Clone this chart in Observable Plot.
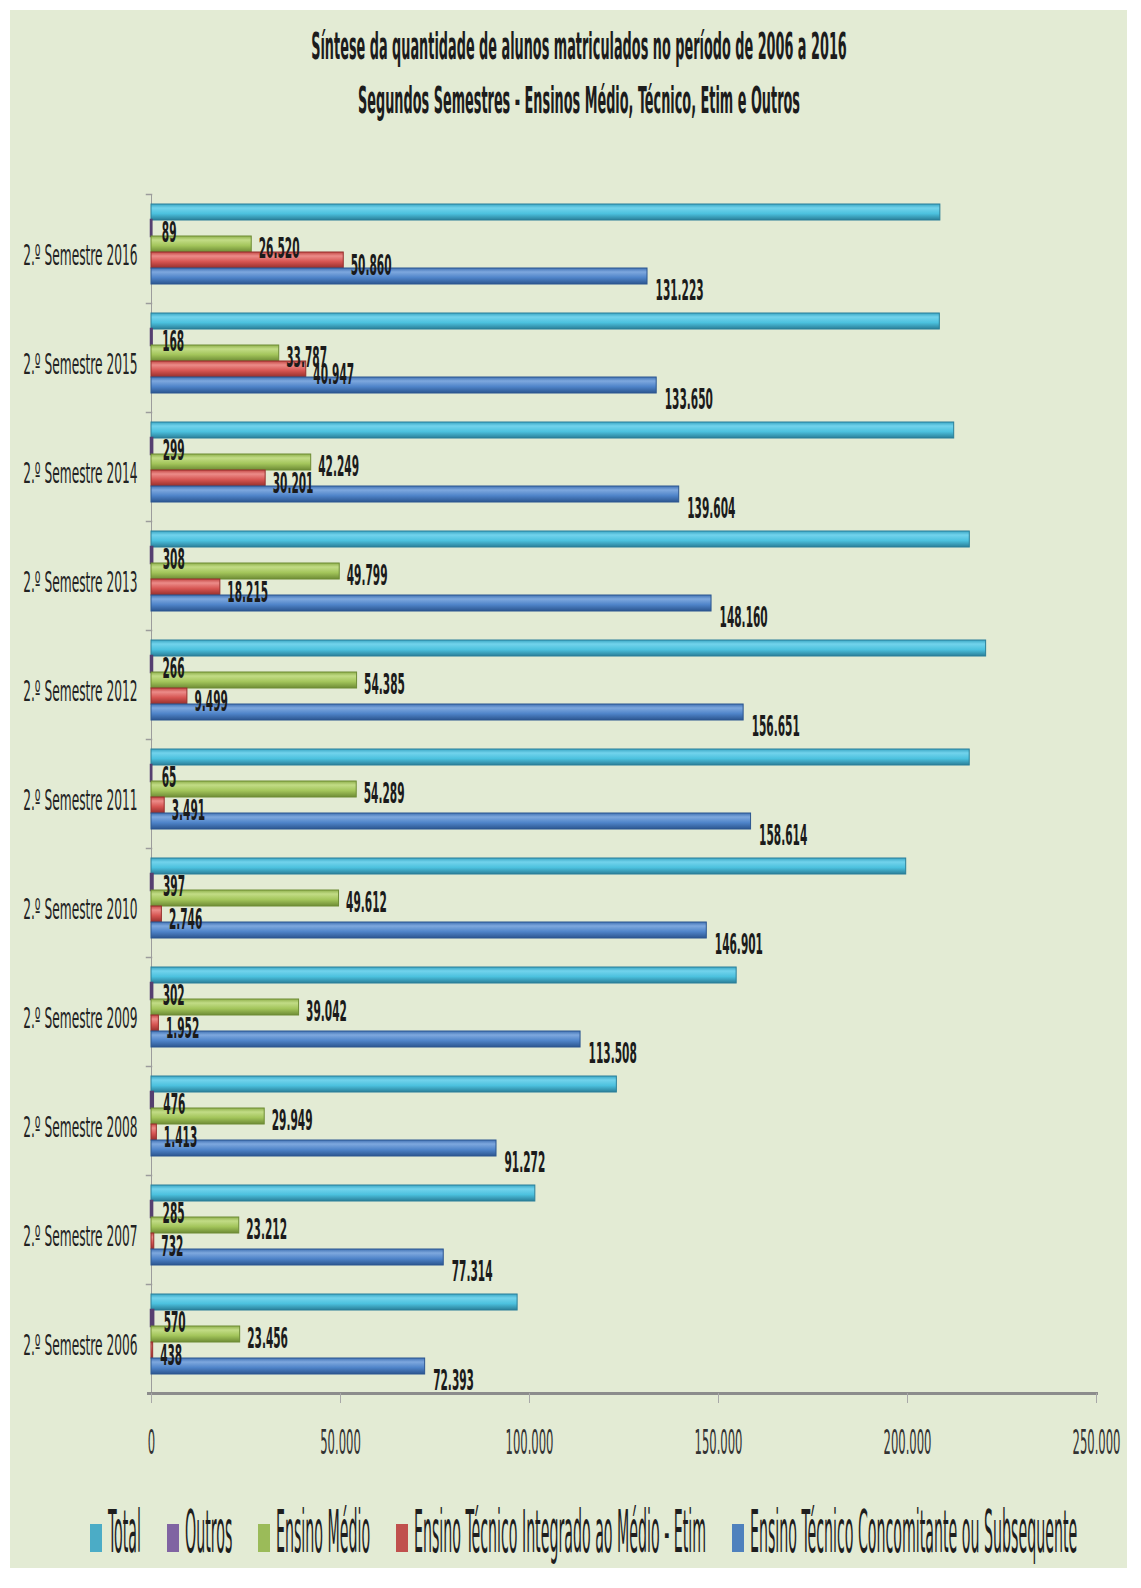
<!DOCTYPE html>
<html>
<head>
<meta charset="utf-8">
<script src="https://cdn.jsdelivr.net/npm/d3@7"></script>
<script src="https://cdn.jsdelivr.net/npm/@observablehq/plot@0.6"></script>
<style>
  html, body { margin: 0; padding: 0; background: #ffffff; }
  body { width: 1141px; height: 1588px; position: relative; overflow: hidden; }
  #panel { position: absolute; left: 10px; top: 10px; width: 1117px; height: 1558px; background: #e3ebd4; }
  .tl { position: absolute; left: 569px; white-space: nowrap; font-family: "DejaVu Sans Condensed", "DejaVu Sans", sans-serif; font-stretch: condensed;
        font-weight: bold; font-size: 38px; line-height: 38px; color: #1c1c1c; transform-origin: center center; }
  #chart { position: absolute; left: 0; top: 150px; }
  #chart svg text { font-stretch: condensed; }
  #legend { position: absolute; left: 15px; top: 1493px; width: 1117px; display: flex; justify-content: center; align-items: baseline;
            font-family: "DejaVu Sans Condensed", "DejaVu Sans", sans-serif; font-stretch: condensed; font-size: 58px; line-height: 58px; color: #1e1e1e; }
  .item { display: flex; align-items: baseline; margin: 0 13px; }
  .sw { width: 12px; height: 28px; margin-right: 6px; }
  .lab { display: inline-block; white-space: nowrap; transform-origin: left center; }
</style>
</head>
<body>
<svg width="0" height="0" style="position:absolute">
  <defs>
    <linearGradient id="gTotal" x1="0" y1="0" x2="0" y2="1">
      <stop offset="0" stop-color="#3aa6c4"/><stop offset="0.25" stop-color="#72d3ec"/><stop offset="0.6" stop-color="#4cc1de"/><stop offset="1" stop-color="#2a7f99"/>
    </linearGradient>
    <linearGradient id="gOutros" x1="0" y1="0" x2="0" y2="1">
      <stop offset="0" stop-color="#6f5590"/><stop offset="0.25" stop-color="#a48cc4"/><stop offset="0.6" stop-color="#8064a2"/><stop offset="1" stop-color="#553f70"/>
    </linearGradient>
    <linearGradient id="gMedio" x1="0" y1="0" x2="0" y2="1">
      <stop offset="0" stop-color="#8fb04c"/><stop offset="0.25" stop-color="#c2dc86"/><stop offset="0.6" stop-color="#a3c55b"/><stop offset="1" stop-color="#6e8c35"/>
    </linearGradient>
    <linearGradient id="gEtim" x1="0" y1="0" x2="0" y2="1">
      <stop offset="0" stop-color="#c44845"/><stop offset="0.25" stop-color="#ec8c89"/><stop offset="0.6" stop-color="#d65552"/><stop offset="1" stop-color="#962f2c"/>
    </linearGradient>
    <linearGradient id="gConc" x1="0" y1="0" x2="0" y2="1">
      <stop offset="0" stop-color="#4172b4"/><stop offset="0.25" stop-color="#7ea8de"/><stop offset="0.6" stop-color="#4f84c9"/><stop offset="1" stop-color="#2c5690"/>
    </linearGradient>
  </defs>
</svg>
<div id="panel">
  <span class="tl" id="t1" style="top:17px">Síntese da quantidade de alunos matriculados no período de 2006 a 2016</span>
  <span class="tl" id="t2" style="top:71px">Segundos Semestres - Ensinos Médio, Técnico, Etim e Outros</span>
  <div id="chart"></div>
  <div id="legend"></div>
</div>
<script>
// ---- data ----
const years = ["2006", "2007", "2008", "2009", "2010", "2011", "2012", "2013", "2014", "2015", "2016"];
const seriesNames = ["Total", "Outros", "Ensino Médio", "Ensino Técnico Integrado ao Médio - Etim", "Ensino Técnico Concomitante ou Subsequente"];
const total  = [96857, 101543, 123110, 154804, 199656, 216459, 220801, 216482, 212353, 208552, 208692];
const outros = [570, 285, 476, 302, 397, 65, 266, 308, 299, 168, 89];
const medio  = [23456, 23212, 29949, 39042, 49612, 54289, 54385, 49799, 42249, 33787, 26520];
const etim   = [438, 732, 1413, 1952, 2746, 3491, 9499, 18215, 30201, 40947, 50860];
const conc   = [72393, 77314, 91272, 113508, 146901, 158614, 156651, 148160, 139604, 133650, 131223];
const xTicks = [0, 50000, 100000, 150000, 200000, 250000];
const yearLabelPrefix = "2.º Semestre ";

// ---- styling (not data) ----
const gradIds = ["gTotal", "gOutros", "gMedio", "gEtim", "gConc"];
const edges = ["#2a7f99", "#553f70", "#6e8c35", "#962f2c", "#2c5690"];
const edgeWidths = [1, 2.5, 1, 1, 1];
const swatches = ["#4bacc6", "#8064a2", "#9bbb59", "#c0504d", "#4f81bd"];

const valuesBySeries = [total, outros, medio, etim, conc];
const rows = [];
seriesNames.forEach((s, i) => years.forEach((y, j) => rows.push({year: y, series: s, value: valuesBySeries[i][j]})));

const fmt = v => d3.format(",")(v).replace(/,/g, ".");
const FONT = "'DejaVu Sans Condensed', 'DejaVu Sans', sans-serif";

const bars = seriesNames.map((s, i) => Plot.barX(rows.filter(d => d.series === s), {
  x: "value", y: "series", fy: "year", fill: `url(#${gradIds[i]})`, stroke: edges[i], strokeWidth: edgeWidths[i]
}));

const labelOffsets = {1: [10, 5], 2: [7, 5], 3: [7, 6], 4: [8, 15]};
const labels = [1, 2, 3, 4].map(i => Plot.text(rows.filter(d => d.series === seriesNames[i]), {
  x: "value", y: "series", fy: "year", text: d => fmt(d.value), textAnchor: "start",
  dx: labelOffsets[i][0], dy: labelOffsets[i][1], fontSize: 28, fontWeight: "bold", fill: "#1b1b1b"
}));

const W = 1117, ML = 141, MR = 31;
const chart = Plot.plot({
  width: W, height: 1310,
  marginTop: 33, marginBottom: 76, marginLeft: ML, marginRight: MR,
  style: {fontFamily: FONT, background: "transparent", color: "#262626", overflow: "visible"},
  x: {domain: [0, 250000]},
  y: {domain: seriesNames, axis: null, paddingInner: 0, paddingOuter: 0.79, align: 0.33},
  fy: {domain: years.slice().reverse(), padding: 0, label: null},
  marks: [
    Plot.frame({anchor: "left", stroke: "#9c9c9c", strokeWidth: 1}),
    // small category separators on the left of the vertical axis
    Plot.frame({anchor: "top", stroke: "#9c9c9c", strokeWidth: 1.5, insetLeft: -5, insetRight: W - ML - MR}),
    ...bars,
    ...labels,
    Plot.frame({anchor: "bottom", facetAnchor: "bottom", stroke: "#8c8c8c", strokeWidth: 3, insetLeft: -3}),
    Plot.axisX({ticks: xTicks, tickFormat: fmt, tickSize: 10, tickPadding: 26, fontSize: 34, stroke: "#a8a8a8", fill: "#333333", label: null}),
    Plot.axisFy({anchor: "left", tickSize: 0, tickPadding: 14, tickFormat: d => yearLabelPrefix + d, fontSize: 28, dy: 7, fill: "#222222", label: null})
  ]
});
document.getElementById("chart").appendChild(chart);

// horizontally condense text (the reference uses a very narrow typeface)
function squeeze(nodes, s) {
  nodes.forEach(t => {
    const x = +t.getAttribute("x") || 0, y = +t.getAttribute("y") || 0;
    const tr = t.getAttribute("transform") || "";
    t.setAttribute("transform", `${tr} translate(${x},${y}) scale(${s},1) translate(${-x},${-y})`);
  });
}
squeeze(chart.querySelectorAll('g[aria-label="text"] text'), 0.42);
squeeze(chart.querySelectorAll('g[aria-label="x-axis tick label"] text'), 0.38);
squeeze(chart.querySelectorAll('g[aria-label="fy-axis tick label"] text'), 0.485);

document.getElementById("t1").style.transform = "translateX(-50%) scaleX(0.376)";
document.getElementById("t2").style.transform = "translateX(-50%) scaleX(0.376)";

// legend
const legend = document.getElementById("legend");
seriesNames.forEach((s, i) => {
  const item = document.createElement("div"); item.className = "item";
  const sw = document.createElement("div"); sw.className = "sw"; sw.style.background = swatches[i];
  const lab = document.createElement("span"); lab.className = "lab"; lab.textContent = s;
  item.appendChild(sw); item.appendChild(lab); legend.appendChild(item);
});
const LS = 0.272;
legend.querySelectorAll(".lab").forEach(el => {
  const w = el.getBoundingClientRect().width;
  el.style.transform = `scaleX(${LS})`;
  el.style.marginRight = `${-(1 - LS) * w}px`;
});
</script>
</body>
</html>
